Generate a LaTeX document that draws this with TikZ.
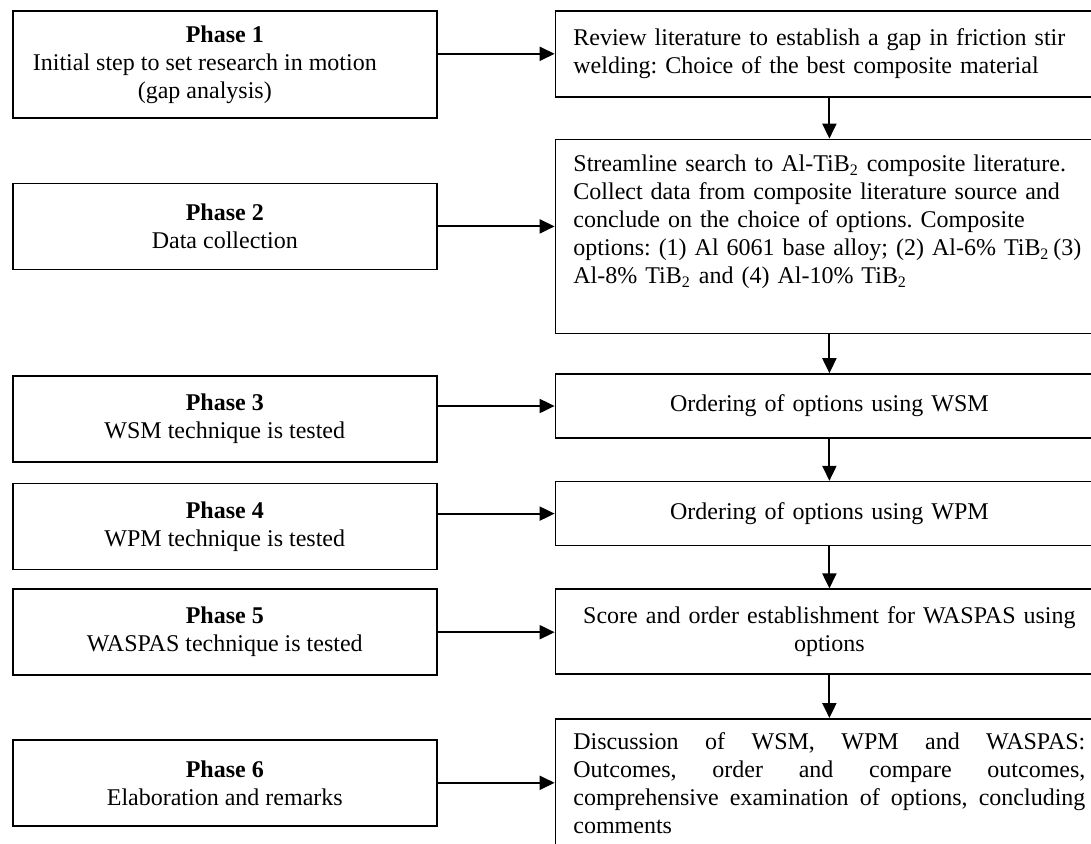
\documentclass[tikz,border=0pt]{standalone}
\usepackage{fontspec}
\setmainfont{Liberation Serif}
\usetikzlibrary{positioning,arrows.meta}
\frenchspacing

\begin{document}
\begin{tikzpicture}[x=0.5pt, y=-0.5pt, node distance=20.5pt,
    phase/.style={draw, line width=0.8pt, minimum width=212pt, minimum height=43pt, inner sep=0pt, align=center, font=\fontsize{12}{14}\selectfont},
    task/.style={draw, line width=0.8pt, text width=256pt, inner xsep=9pt, inner ysep=7pt, minimum height=32pt, font=\fontsize{12}{14}\selectfont},
    flow/.style={-{Triangle[length=7.5pt,width=7pt]}, line width=1pt}]
    \useasboundingbox (0,0) rectangle (1091,843);
    \clip (0,0) rectangle (1091,843);
    % phases on the left
    \node(p1)[phase, minimum height=53.5pt, anchor=north west] at (12,10) {\textbf{Phase 1}\\Initial step to set research in motion\rule{20pt}{0pt}\\(gap analysis)\rule{20pt}{0pt}};
    \node(p2)[phase, below=32pt of p1] {\textbf{Phase 2}\\Data collection};
    \node(p3)[phase, below=52.5pt of p2] {\textbf{Phase 3}\\WSM technique is tested};
    \node(p4)[phase, below=10pt of p3] {\textbf{Phase 4}\\WPM technique is tested};
    \node(p5)[phase, below=9pt of p4] {\textbf{Phase 5}\\WASPAS technique is tested};
    \node(p6)[phase, below=31.5pt of p5] {\textbf{Phase 6}\\Elaboration and remarks};
    % tasks on the right
    \node(r1)[task, align=left, minimum height=43pt, right=58.5pt of p1.north east, anchor=north west] {Review literature to establish a gap in friction stir\\welding: Choice of the best composite material};
    \node(r2)[task, align=left, text height=9pt, text depth=74pt, below=of r1] {Streamline search to Al-TiB\textsubscript{2} composite literature.\\Collect data from composite literature source and\\conclude on the choice of options. Composite\\\mbox{options: (1) Al 6061 base alloy; (2) Al-6\% TiB\textsubscript{2}\,(3)}\\Al-8\% TiB\textsubscript{2} and (4) Al-10\% TiB\textsubscript{2}};
    \node(r3)[task, align=center, below=19.5pt of r2] {Ordering of options using WSM};
    \node(r4)[task, align=center, below=21pt of r3] {Ordering of options using WPM};
    \node(r5)[task, align=center, minimum height=42.5pt, below=21pt of r4] {Score and order establishment for WASPAS using\\options};
    \node(r6)[task, align=justify, text height=8.5pt, text depth=100pt, below=21.5pt of r5] {Discussion of WSM, WPM and WASPAS:\linebreak Outcomes, order and compare outcomes,\linebreak comprehensive examination of options, concluding\linebreak comments};
    \draw[flow] (p1.east |- r1.west) -- (r1.west);
    \draw[flow] (p2.east) -- (p2.east -| r2.west);
    \draw[flow] (p3.east |- r3.west) -- (r3.west);
    \draw[flow] (p4.east |- r4.west) -- (r4.west);
    \draw[flow] (p5.east) -- (p5.east -| r5.west);
    \draw[flow] (p6.east) -- (p6.east -| r6.west);
    \draw[flow] (r1.south) -- (r2.north);
    \draw[flow] (r2.south) -- (r3.north);
    \draw[flow] (r3.south) -- (r4.north);
    \draw[flow] (r4.south) -- (r5.north);
    \draw[flow] (r5.south) -- (r6.north);
\end{tikzpicture}
\end{document}
